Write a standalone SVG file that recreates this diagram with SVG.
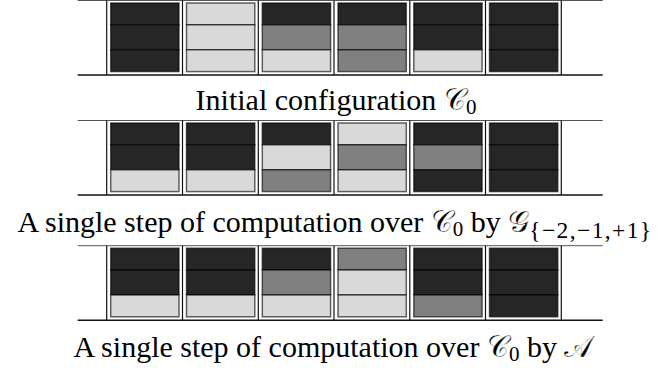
<svg xmlns="http://www.w3.org/2000/svg" width="668" height="371" viewBox="0 0 668 371">
  <defs>
    <style>
      .bg { fill: #ffffff; }
      .rule-top { stroke: #555555; stroke-width: 1; }
      .rule-bot { stroke: #111111; stroke-width: 1.5; }
      .sep { stroke: #111111; stroke-width: 1.2; }
      .band { stroke: #000000; stroke-opacity: 0.6; stroke-width: 1.5; }
      .D { fill: #262626; }
      .M { fill: #808080; }
      .L { fill: #d9d9d9; }
      .cap { font-family: "Liberation Serif", "DejaVu Serif", serif; font-size: 30px; fill: #000000; text-anchor: middle; }
      /* calligraphic letters, slightly thinned with a fine white outline */
      .math { font-family: "DejaVu Sans", "Noto Sans", "Liberation Serif", serif; stroke: #ffffff; stroke-width: 0.35px; }
      .sub { font-size: 21px; }
      .subset { font-size: 23.5px; letter-spacing: 1.4px; }
    </style>
    <!-- frame of one tape: rules plus cell separators -->
    <g id="frame">
      <line class="rule-top" x1="77.7" y1="0" x2="602.7" y2="0"/>
      <line class="rule-bot" x1="77.7" y1="74.5" x2="602.7" y2="74.5"/>
      <line class="sep" x1="106.7" y1="0" x2="106.7" y2="74.5"/>
      <line class="sep" x1="182.5" y1="0" x2="182.5" y2="74.5"/>
      <line class="sep" x1="258.3" y1="0" x2="258.3" y2="74.5"/>
      <line class="sep" x1="334" y1="0" x2="334" y2="74.5"/>
      <line class="sep" x1="409.8" y1="0" x2="409.8" y2="74.5"/>
      <line class="sep" x1="485.5" y1="0" x2="485.5" y2="74.5"/>
      <line class="sep" x1="561.3" y1="0" x2="561.3" y2="74.5"/>
    </g>
  </defs>
  <rect class="bg" x="0" y="0" width="668" height="371"/>

  <!-- tape 1: initial configuration -->
  <g id="tape-c0" transform="translate(0,0.5)">
    <use href="#frame"/>
    <g id="c0-cell1"><rect class="band D" x="110.7" y="2.5" width="68.3" height="21.8"/><rect class="band D" x="110.7" y="24.3" width="68.3" height="25"/><rect class="band D" x="110.7" y="49.3" width="68.3" height="21.8"/></g>
    <g id="c0-cell2"><rect class="band L" x="186.5" y="2.5" width="68.3" height="21.8"/><rect class="band L" x="186.5" y="24.3" width="68.3" height="25"/><rect class="band L" x="186.5" y="49.3" width="68.3" height="21.8"/></g>
    <g id="c0-cell3"><rect class="band D" x="262.3" y="2.5" width="68.3" height="21.8"/><rect class="band M" x="262.3" y="24.3" width="68.3" height="25"/><rect class="band L" x="262.3" y="49.3" width="68.3" height="21.8"/></g>
    <g id="c0-cell4"><rect class="band D" x="338" y="2.5" width="68.3" height="21.8"/><rect class="band M" x="338" y="24.3" width="68.3" height="25"/><rect class="band M" x="338" y="49.3" width="68.3" height="21.8"/></g>
    <g id="c0-cell5"><rect class="band D" x="413.8" y="2.5" width="68.3" height="21.8"/><rect class="band D" x="413.8" y="24.3" width="68.3" height="25"/><rect class="band L" x="413.8" y="49.3" width="68.3" height="21.8"/></g>
    <g id="c0-cell6"><rect class="band D" x="489.5" y="2.5" width="68.3" height="21.8"/><rect class="band D" x="489.5" y="24.3" width="68.3" height="25"/><rect class="band D" x="489.5" y="49.3" width="68.3" height="21.8"/></g>
  </g>
  <text id="caption-c0" class="cap" x="336" y="110">Initial configuration <tspan class="math">𝒞</tspan><tspan class="sub" dy="4">0</tspan></text>

  <!-- tape 2: one step by G{-2,-1,+1} -->
  <g id="tape-g" transform="translate(0,120.5)">
    <use href="#frame"/>
    <g id="g-cell1"><rect class="band D" x="110.7" y="2.5" width="68.3" height="21.8"/><rect class="band D" x="110.7" y="24.3" width="68.3" height="25"/><rect class="band L" x="110.7" y="49.3" width="68.3" height="21.8"/></g>
    <g id="g-cell2"><rect class="band D" x="186.5" y="2.5" width="68.3" height="21.8"/><rect class="band D" x="186.5" y="24.3" width="68.3" height="25"/><rect class="band L" x="186.5" y="49.3" width="68.3" height="21.8"/></g>
    <g id="g-cell3"><rect class="band D" x="262.3" y="2.5" width="68.3" height="21.8"/><rect class="band L" x="262.3" y="24.3" width="68.3" height="25"/><rect class="band M" x="262.3" y="49.3" width="68.3" height="21.8"/></g>
    <g id="g-cell4"><rect class="band L" x="338" y="2.5" width="68.3" height="21.8"/><rect class="band M" x="338" y="24.3" width="68.3" height="25"/><rect class="band L" x="338" y="49.3" width="68.3" height="21.8"/></g>
    <g id="g-cell5"><rect class="band D" x="413.8" y="2.5" width="68.3" height="21.8"/><rect class="band M" x="413.8" y="24.3" width="68.3" height="25"/><rect class="band D" x="413.8" y="49.3" width="68.3" height="21.8"/></g>
    <g id="g-cell6"><rect class="band D" x="489.5" y="2.5" width="68.3" height="21.8"/><rect class="band D" x="489.5" y="24.3" width="68.3" height="25"/><rect class="band D" x="489.5" y="49.3" width="68.3" height="21.8"/></g>
  </g>
  <text id="caption-g" class="cap" x="335" y="232.3">A single step of computation over <tspan class="math">𝒞</tspan><tspan class="sub" dy="4">0</tspan><tspan dy="-4"> by </tspan><tspan class="math">𝒢</tspan><tspan class="subset" dy="6">{−2,−1,+1}</tspan></text>

  <!-- tape 3: one step by A -->
  <g id="tape-a" transform="translate(0,245.7)">
    <use href="#frame"/>
    <g id="a-cell1"><rect class="band D" x="110.7" y="2.5" width="68.3" height="21.8"/><rect class="band D" x="110.7" y="24.3" width="68.3" height="25"/><rect class="band L" x="110.7" y="49.3" width="68.3" height="21.8"/></g>
    <g id="a-cell2"><rect class="band D" x="186.5" y="2.5" width="68.3" height="21.8"/><rect class="band D" x="186.5" y="24.3" width="68.3" height="25"/><rect class="band L" x="186.5" y="49.3" width="68.3" height="21.8"/></g>
    <g id="a-cell3"><rect class="band D" x="262.3" y="2.5" width="68.3" height="21.8"/><rect class="band M" x="262.3" y="24.3" width="68.3" height="25"/><rect class="band L" x="262.3" y="49.3" width="68.3" height="21.8"/></g>
    <g id="a-cell4"><rect class="band M" x="338" y="2.5" width="68.3" height="21.8"/><rect class="band L" x="338" y="24.3" width="68.3" height="25"/><rect class="band L" x="338" y="49.3" width="68.3" height="21.8"/></g>
    <g id="a-cell5"><rect class="band D" x="413.8" y="2.5" width="68.3" height="21.8"/><rect class="band D" x="413.8" y="24.3" width="68.3" height="25"/><rect class="band M" x="413.8" y="49.3" width="68.3" height="21.8"/></g>
    <g id="a-cell6"><rect class="band D" x="489.5" y="2.5" width="68.3" height="21.8"/><rect class="band D" x="489.5" y="24.3" width="68.3" height="25"/><rect class="band D" x="489.5" y="49.3" width="68.3" height="21.8"/></g>
  </g>
  <text id="caption-a" class="cap" x="333" y="357">A single step of computation over <tspan class="math">𝒞</tspan><tspan class="sub" dy="4">0</tspan><tspan dy="-4"> by </tspan><tspan class="math">𝒜</tspan></text>
</svg>
